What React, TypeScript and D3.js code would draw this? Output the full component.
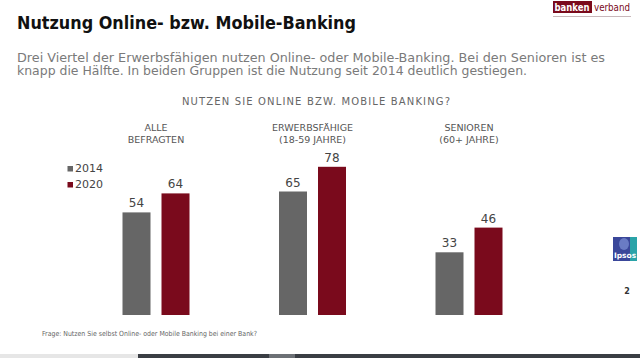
import React, { useEffect, useRef } from "react";
import * as d3 from "d3";

const groups = ["alle", "erwerb", "senioren"];
const groupLabels = [
  ["ALLE", "BEFRAGTEN"],
  ["ERWERBSFÄHIGE", "(18-59 JAHRE)"],
  ["SENIOREN", "(60+ JAHRE)"],
];
const years = ["2014", "2020"];
const values2014 = [54, 65, 33];
const values2020 = [64, 78, 46];

const title = "Nutzung Online- bzw. Mobile-Banking";
const subtitle1 = "Drei Viertel der Erwerbsfähigen nutzen Online- oder Mobile-Banking. Bei den Senioren ist es";
const subtitle2 = "knapp die Hälfte. In beiden Gruppen ist die Nutzung seit 2014 deutlich gestiegen.";
const question = "NUTZEN SIE ONLINE BZW. MOBILE BANKING?";
const footnote = "Frage: Nutzen Sie selbst Online- oder Mobile Banking bei einer Bank?";

const GRAY = "#666666";
const RED = "#7a0a1c";
const FONT = "'DejaVu Sans', Verdana, sans-serif";

export default function App() {
  const ref = useRef<SVGSVGElement | null>(null);

  useEffect(() => {
    const svg = d3.select(ref.current);
    svg.selectAll("*").remove();

    const x = d3.scaleBand<string>().domain(groups).range([77.75, 547.25]).padding(0);
    const xs = d3.scaleBand<string>().domain(years).range([-33.5, 33.5]).paddingInner(0.282).paddingOuter(0);
    const y = d3.scaleLinear().domain([0, 100]).range([315, 125]);
    const color = d3.scaleOrdinal<string, string>().domain(years).range([GRAY, RED]);

    // title
    svg.append("text").attr("x", 17).attr("y", 29).attr("font-family", FONT).attr("font-weight", "bold")
      .attr("font-size", 18).attr("fill", "#111").attr("textLength", 339).attr("lengthAdjust", "spacingAndGlyphs").text(title);
    svg.append("text").attr("x", 17).attr("y", 62).attr("font-family", FONT).attr("font-size", 11.5)
      .attr("fill", "#7a7a7a").attr("textLength", 588).attr("lengthAdjust", "spacingAndGlyphs").text(subtitle1);
    svg.append("text").attr("x", 17).attr("y", 75).attr("font-family", FONT).attr("font-size", 11.5)
      .attr("fill", "#7a7a7a").attr("textLength", 510).attr("lengthAdjust", "spacingAndGlyphs").text(subtitle2);

    // question
    svg.append("text").attr("x", 182).attr("y", 105).attr("font-family", FONT).attr("font-size", 10)
      .attr("fill", "#666").attr("textLength", 268).attr("lengthAdjust", "spacing").text(question);

    // group labels
    const gl = svg.append("g");
    groups.forEach((g, i) => {
      const cx = (x(g) as number) + x.bandwidth() / 2;
      groupLabels[i].forEach((t, j) => {
        gl.append("text").attr("x", cx).attr("y", 131 + j * 11.5).attr("text-anchor", "middle")
          .attr("font-family", FONT).attr("font-size", 9.5).attr("fill", "#555").text(t);
      });
    });

    // bars
    const data = groups.flatMap((g, i) => [
      { g, year: "2014", v: values2014[i] },
      { g, year: "2020", v: values2020[i] },
    ]);
    const bx = (d: any) => (x(d.g) as number) + x.bandwidth() / 2 + (xs(d.year) as number);
    svg.append("g").selectAll("rect").data(data).join("rect")
      .attr("x", bx).attr("y", (d) => y(d.v)).attr("width", xs.bandwidth())
      .attr("height", (d) => y(0) - y(d.v)).attr("fill", (d) => color(d.year));
    svg.append("g").selectAll("text").data(data).join("text")
      .attr("x", (d) => bx(d) + xs.bandwidth() / 2).attr("y", (d) => y(d.v) - 5)
      .attr("text-anchor", "middle").attr("font-family", FONT).attr("font-size", 12).attr("fill", "#444")
      .text((d) => String(d.v));

    // legend
    const lg = svg.append("g");
    years.forEach((yr, i) => {
      lg.append("rect").attr("x", 67.5).attr("y", 166 + i * 16).attr("width", 5.5).attr("height", 5.5).attr("fill", color(yr));
      lg.append("text").attr("x", 75).attr("y", 172 + i * 16).attr("font-family", FONT).attr("font-size", 11)
        .attr("fill", "#444").text(yr);
    });

    // footnote
    svg.append("text").attr("x", 42).attr("y", 336).attr("font-family", FONT).attr("font-size", 7)
      .attr("fill", "#666").attr("textLength", 215).attr("lengthAdjust", "spacingAndGlyphs").text(footnote);

    // bankenverband logo
    svg.append("rect").attr("x", 553).attr("y", 1).attr("width", 39).attr("height", 12).attr("fill", "#7a0a1c");
    svg.append("text").attr("x", 554.5).attr("y", 10.5).attr("font-family", FONT).attr("font-weight", "bold").attr("font-size", 10)
      .attr("fill", "#fff").attr("textLength", 35).attr("lengthAdjust", "spacingAndGlyphs").text("banken");
    svg.append("text").attr("x", 594).attr("y", 10.5).attr("font-family", FONT).attr("font-size", 10)
      .attr("fill", "#7a0a1c").attr("textLength", 36).attr("lengthAdjust", "spacingAndGlyphs").text("verband");
    svg.append("line").attr("x1", 553).attr("x2", 631).attr("y1", 16.5).attr("y2", 16.5).attr("stroke", "#c8b8bb").attr("stroke-width", 1);

    // Ipsos logo
    const ip = svg.append("g");
    ip.append("rect").attr("x", 613).attr("y", 237).attr("width", 24).attr("height", 24).attr("fill", "#3a479a");
    ip.append("rect").attr("x", 630).attr("y", 237).attr("width", 7).attr("height", 24).attr("fill", "#2aa3a8");
    ip.append("ellipse").attr("cx", 624).attr("cy", 244).attr("rx", 5).attr("ry", 6).attr("fill", "#6a7cc4");
    ip.append("text").attr("x", 625).attr("y", 258).attr("text-anchor", "middle").attr("font-family", FONT)
      .attr("font-weight", "bold").attr("font-size", 7.5).attr("fill", "#fff").text("Ipsos");

    // page number
    svg.append("text").attr("x", 627).attr("y", 294).attr("text-anchor", "middle").attr("font-family", FONT)
      .attr("font-weight", "bold").attr("font-size", 8).attr("fill", "#333").text("2");

    // bottom strip
    svg.append("rect").attr("x", 0).attr("y", 354).attr("width", 138).attr("height", 4).attr("fill", "#e6e6e6");
    svg.append("rect").attr("x", 138).attr("y", 354).attr("width", 502).attr("height", 4).attr("fill", "#3a3e44");
    svg.append("rect").attr("x", 269).attr("y", 354).attr("width", 26).attr("height", 4).attr("fill", "#6c7075");
  }, []);

  return (
    <svg
      ref={ref}
      width={640}
      height={358}
      style={{ position: "fixed", left: 0, top: 0, background: "#fff" }}
    />
  );
}
